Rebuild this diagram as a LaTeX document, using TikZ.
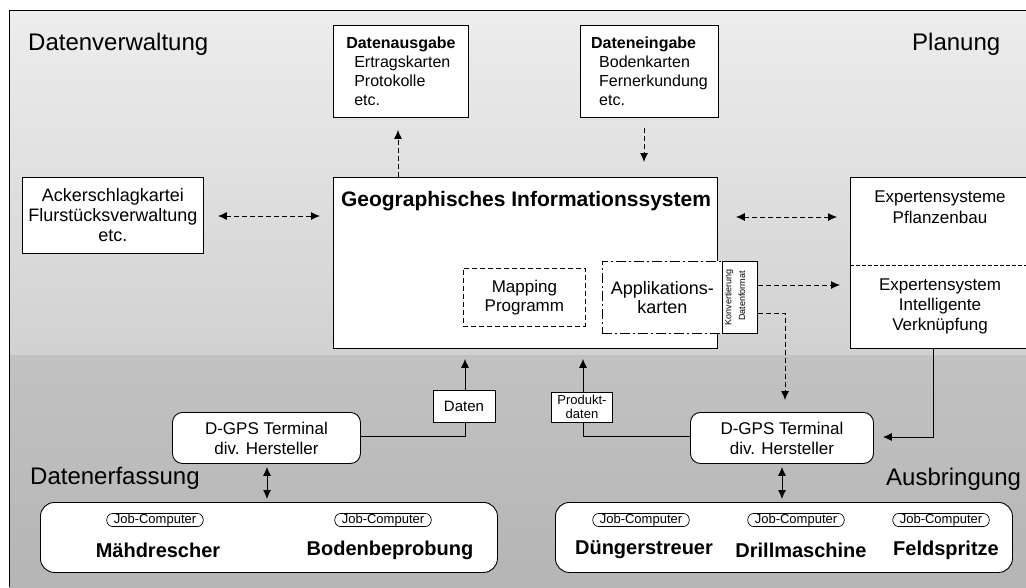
\documentclass[tikz,border=0pt]{standalone}
\usepackage{fontspec}
\setmainfont{Liberation Sans}
\usetikzlibrary{arrows.meta,calc}
\tikzset{
  box/.style={draw=black, line width=0.9pt, fill=white, inner sep=0pt},
  region/.style={font=\fontsize{24}{28}\selectfont, inner sep=0pt, anchor=base west},
  body/.style={font=\fontsize{17}{20}\selectfont, align=center, inner sep=0pt},
  jobc/.style={draw=black, line width=0.7pt, rounded corners=6pt, inner xsep=7pt, inner ysep=0.5pt, font=\fontsize{13}{14}\selectfont},
  mach/.style={font=\bfseries\fontsize{20}{22}\selectfont, inner sep=0pt},
  tip/.style={-{Latex[length=9pt,width=8pt]}},
  tips/.style={{Latex[length=9pt,width=8pt]}-{Latex[length=9pt,width=8pt]}},
  dconn/.style={line width=0.9pt, dash pattern=on 5pt off 3pt},
  sconn/.style={line width=0.9pt}
}
\begin{document}
\begin{tikzpicture}[x=1pt,y=-1pt]
\useasboundingbox (0,0) rectangle (1026,587);
\clip (0,0) rectangle (1026,587);
\fill[white] (0,0) rectangle (1026,587);
\shade[top color=gray!14, bottom color=gray!36] (9,10) rectangle (1026,355);
\shade[top color=gray!48, bottom color=gray!58] (9,355) rectangle (1026,587);
\draw[line width=1pt] (9,587) -- (9,10) -- (1026,10);

% region labels
\node[region] (lDV) at (28,50) {Datenverwaltung};
\node[region] (lPL) at (912,50) {Planung};
\node[region] (lDE) at (30,484) {Datenerfassung};
\node[region] (lAB) at (886,485) {Ausbringung};

% top boxes
\node[box, anchor=north west, minimum width=135pt, minimum height=92pt, align=left,
      font=\fontsize{16}{19}\selectfont] (dout) at (333,25)
  {\textbf{Datenausgabe}\\\hspace*{8pt}Ertragskarten\\\hspace*{8pt}Protokolle\\\hspace*{8pt}etc.};
\node[box, anchor=north west, minimum width=138pt, minimum height=92pt, align=left,
      font=\fontsize{16}{19}\selectfont] (din) at (580,25)
  {\textbf{Dateneingabe}\\\hspace*{8pt}Bodenkarten\\\hspace*{8pt}Fernerkundung\\\hspace*{8pt}etc.};

% Ackerschlagkartei
\node[box, anchor=north west, minimum width=181pt, minimum height=76pt, align=center,
      font=\fontsize{18}{20}\selectfont] (acker) at (22,177)
  {Ackerschlagkartei\\Flurstücksverwaltung\\etc.};

% GIS
\node[box, anchor=north west, minimum width=384pt, minimum height=171pt] (gis) at (333,177) {};
\node[font=\bfseries\fontsize{21}{24}\selectfont, inner sep=0pt] (gistitle) at (526,201)
  {Geographisches Informationssystem};
\node[draw=black, line width=0.8pt, dash pattern=on 5pt off 3pt, fill=white, anchor=north west,
      minimum width=122pt, minimum height=58pt, align=center, inner sep=0pt,
      font=\fontsize{17}{19}\selectfont] (map) at (463,268) {Mapping\\Programm};
\node[draw=black, line width=0.8pt, dash pattern=on 10pt off 3pt on 2pt off 3pt, fill=white, anchor=north west,
      minimum width=120pt, minimum height=72pt, align=center, inner sep=0pt,
      font=\fontsize{18}{19}\selectfont] (appl) at (602,261) {Applikations-\\karten};
\node[box, line width=0.8pt, anchor=north west, minimum width=35pt, minimum height=72pt] (sbox) at (722,261) {};
\node[rotate=90, font=\fontsize{9}{10}\selectfont, inner sep=0pt] (sv1) at (729,297) {Konvertierung};
\node[rotate=90, font=\fontsize{9}{10}\selectfont, inner sep=0pt] (sv2) at (742,296) {Datenformat};

% Expertensysteme
\node[box, anchor=north west, minimum width=200pt, minimum height=171pt] (expert) at (850,177) {};
\draw[line width=0.8pt, dash pattern=on 4pt off 2pt] (expert.west |- 0,265) -- (expert.east |- 0,265);
\node[body, font=\fontsize{17}{21}\selectfont] (exp1) at (940,207) {Expertensysteme\\Pflanzenbau};
\node[body, font=\fontsize{17}{20}\selectfont] (exp2) at (940,306) {Expertensystem\\Intelligente\\Verknüpfung};

% D-GPS terminals
\node[box, rounded corners=10pt, anchor=north west, minimum width=188pt, minimum height=51pt,
      align=center, font=\fontsize{17}{20}\selectfont] (lterm) at (172,412) {D-GPS Terminal\\div. Hersteller};
\node[box, rounded corners=10pt, anchor=north west, minimum width=183pt, minimum height=51pt,
      align=center, font=\fontsize{17}{20}\selectfont] (rterm) at (690,412) {D-GPS Terminal\\div. Hersteller};

% bottom boxes
\node[box, rounded corners=14pt, anchor=north west, minimum width=457pt, minimum height=70pt] (bleft) at (40,502) {};
\node[box, rounded corners=14pt, anchor=north west, minimum width=457pt, minimum height=70pt] (bright) at (555,502) {};
\node[jobc] (jc1) at (155,520) {Job-Computer};
\node[mach] (m1) at (158,550) {Mähdrescher};
\node[jobc] (jc2) at (383,520) {Job-Computer};
\node[mach] (m2) at (390,550) {Bodenbeprobung};
\node[jobc] (jc3) at (641,520) {Job-Computer};
\node[mach] (m3) at (644,550) {Düngerstreuer};
\node[jobc] (jc4) at (796,520) {Job-Computer};
\node[mach] (m4) at (801,550) {Drillmaschine};
\node[jobc] (jc5) at (941,520) {Job-Computer};
\node[mach] (m5) at (946,550) {Feldspritze};

% connectors
\draw[dconn, tips, shorten <=14pt, shorten >=13pt] (acker.east |- 0,216) -- (gis.west |- 0,216);
\draw[dconn, tips, shorten <=18pt, shorten >=13pt] (gis.east |- 0,217) -- (expert.west |- 0,217);
\draw[dconn, tip, shorten >=12pt] (gis.north -| 398,0) -- (dout.south -| 398,0);
\draw[dconn, tip, shorten <=10pt, shorten >=15pt] (din.south -| 644,0) -- (gis.north -| 644,0);
\draw[dconn, tip, shorten >=10pt] (sbox.east |- 0,285) -- (expert.west |- 0,285);
\coordinate (bend) at (785,313);
\draw[dconn, tip, shorten >=12pt] (sbox.east |- bend) -- (bend) -- (rterm.north -| bend);
\draw[sconn, tip, shorten >=9pt] (expert.south -| 933,0) |- (rterm.east |- 0,437);
\draw[sconn, tip, shorten >=10pt] (lterm.east |- 0,436) -| (gis.south -| 465,0);
\draw[sconn, tip, shorten >=10pt] (rterm.west |- 0,436) -| (gis.south -| 583,0);
\draw[sconn, tips, shorten <=3pt, shorten >=3pt] (rterm.south -| 782,0) -- (bright.north -| 782,0);
\draw[sconn, tips, shorten <=3pt, shorten >=3pt] (lterm.south -| 267,0) -- (bleft.north -| 267,0);

% data label boxes
\node[box, minimum width=62pt, minimum height=32pt, font=\fontsize{15}{17}\selectfont] (daten) at (464,406) {Daten};
\node[box, minimum width=61pt, minimum height=30pt, align=center, font=\fontsize{13}{14}\selectfont] (prod) at (582,407) {Produkt-\\daten};
\end{tikzpicture}
\end{document}
